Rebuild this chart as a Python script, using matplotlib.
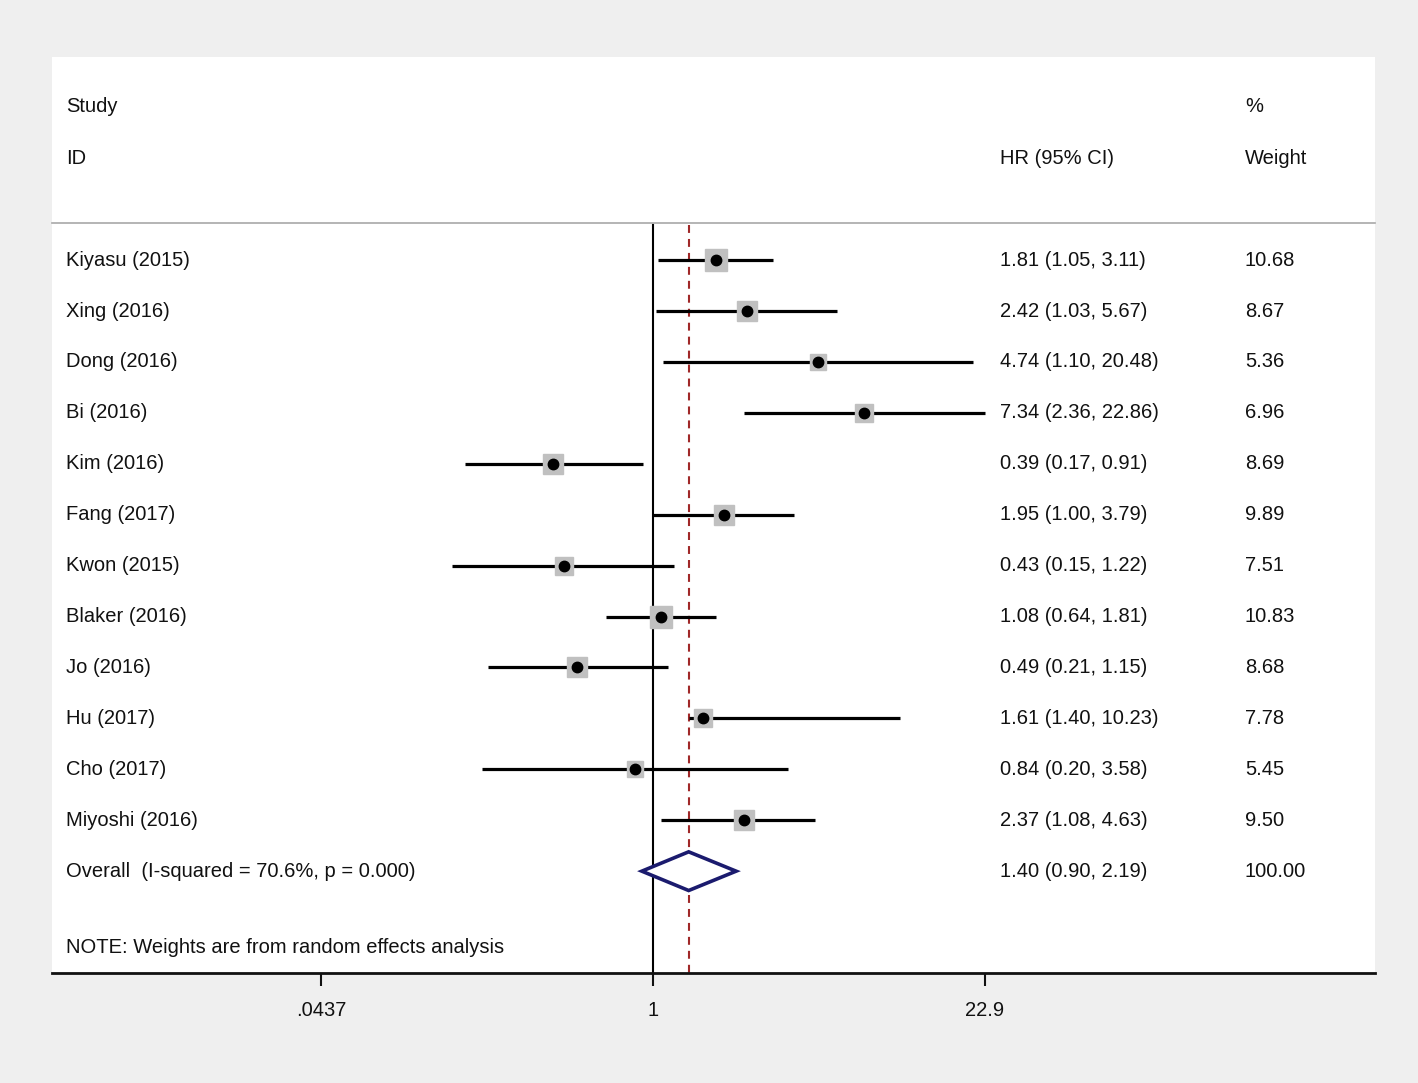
import matplotlib
matplotlib.use("Agg")
import matplotlib.pyplot as plt
import matplotlib.transforms as mtransforms
from matplotlib.patches import Polygon
import numpy as np

plt.rcParams['font.family'] = ['Liberation Sans', 'DejaVu Sans']

studies = ["Kiyasu (2015)", "Xing (2016)", "Dong (2016)", "Bi (2016)", "Kim (2016)",
           "Fang (2017)", "Kwon (2015)", "Blaker (2016)", "Jo (2016)", "Hu (2017)",
           "Cho (2017)", "Miyoshi (2016)"]
hr = [1.81, 2.42, 4.74, 7.34, 0.39, 1.95, 0.43, 1.08, 0.49, 1.61, 0.84, 2.37]
lo = [1.05, 1.03, 1.10, 2.36, 0.17, 1.00, 0.15, 0.64, 0.21, 1.40, 0.20, 1.08]
hi = [3.11, 5.67, 20.48, 22.86, 0.91, 3.79, 1.22, 1.81, 1.15, 10.23, 3.58, 4.63]
weights = [10.68, 8.67, 5.36, 6.96, 8.69, 9.89, 7.51, 10.83, 8.68, 7.78, 5.45, 9.50]
hr_text = ["1.81 (1.05, 3.11)", "2.42 (1.03, 5.67)", "4.74 (1.10, 20.48)",
           "7.34 (2.36, 22.86)", "0.39 (0.17, 0.91)", "1.95 (1.00, 3.79)",
           "0.43 (0.15, 1.22)", "1.08 (0.64, 1.81)", "0.49 (0.21, 1.15)",
           "1.61 (1.40, 10.23)", "0.84 (0.20, 3.58)", "2.37 (1.08, 4.63)"]
weight_text = ["10.68", "8.67", "5.36", "6.96", "8.69", "9.89", "7.51", "10.83",
               "8.68", "7.78", "5.45", "9.50"]
overall = (1.40, 0.90, 2.19)
overall_label = "Overall  (I-squared = 70.6%, p = 0.000)"
overall_text = "1.40 (0.90, 2.19)"
overall_weight = "100.00"
note = "NOTE: Weights are from random effects analysis"
tick_vals = [0.0437, 1, 22.9]
tick_labels = [".0437", "1", "22.9"]

W, H = 1418, 1083
fig = plt.figure(figsize=(W / 100, H / 100), dpi=100)
fig.patch.set_facecolor('#efefef')

left, right, top, bottom = 52, 1375, 57, 973
ax = fig.add_axes([left / W, 1 - bottom / H, (right - left) / W, (bottom - top) / H])
ax.set_facecolor('white')
ax.set_xscale('log')
ppl = 332 / np.log(22.9)  # pixels per ln unit
ax.set_xlim(np.exp(-(653 - left) / ppl), np.exp((right - 653) / ppl))
ax.set_ylim(14.0, -3.99)

for s in ['top', 'left', 'right']:
    ax.spines[s].set_visible(False)
ax.spines['bottom'].set_linewidth(2)
ax.spines['bottom'].set_color('#111111')
ax.set_yticks([])
ax.set_xticks(tick_vals)
ax.set_xticklabels(tick_labels)
ax.xaxis.set_minor_locator(matplotlib.ticker.NullLocator())
ax.tick_params(axis='x', direction='out', length=9, width=1.5, color='#111111',
               labelsize=14.5, pad=11, labelcolor='#111111')

fs = 14.5
tc = '#111111'
trans = mtransforms.blended_transform_factory(ax.transAxes, ax.transData)
xs_lab, xs_hr, xs_w = (66 - left) / (right - left), (1000 - left) / (right - left), (1245 - left) / (right - left)

# headers
ax.text(xs_lab, -3.02, "Study", transform=trans, fontsize=fs, color=tc, va='center')
ax.text(xs_lab, -2.0, "ID", transform=trans, fontsize=fs, color=tc, va='center')
ax.text(xs_hr, -2.0, "HR (95% CI)", transform=trans, fontsize=fs, color=tc, va='center')
ax.text(xs_w, -3.02, "%", transform=trans, fontsize=fs, color=tc, va='center')
ax.text(xs_w, -2.0, "Weight", transform=trans, fontsize=fs, color=tc, va='center')
ax.plot([0, 1], [-0.73, -0.73], transform=trans, color='#a8a8a8', lw=1.2, clip_on=False)

# reference lines
ax.plot([1, 1], [-0.69, 14.0], color='black', lw=1.5, zorder=2)
ax.plot([overall[0], overall[0]], [-0.69, 14.0], color='#a02828', lw=1.5,
        dashes=(3.8, 2.9), zorder=2)

rows = np.arange(len(studies))
for i in rows:
    y = i
    ax.plot([lo[i], hi[i]], [y, y], color='black', lw=2.3, solid_capstyle='butt', zorder=3)
    ms = 15.5 * np.sqrt(weights[i] / 10.83)
    ax.plot(hr[i], y, marker='s', ms=ms, color='#c0c0c0', mec='#c0c0c0', zorder=4)
    ax.plot(hr[i], y, marker='o', ms=7.5, color='black', zorder=5)
    ax.text(xs_lab, y, studies[i], transform=trans, fontsize=fs, color=tc, va='center')
    ax.text(xs_hr, y, hr_text[i], transform=trans, fontsize=fs, color=tc, va='center')
    ax.text(xs_w, y, weight_text[i], transform=trans, fontsize=fs, color=tc, va='center')

yo = len(studies)
est, olo, ohi = overall
dia = Polygon([[olo, yo], [est, yo - 0.38], [ohi, yo], [est, yo + 0.38]], closed=True,
              facecolor='white', edgecolor='#1b1b6e', lw=2.6, zorder=6)
ax.add_patch(dia)
ax.text(xs_lab, yo, overall_label, transform=trans, fontsize=fs, color=tc, va='center')
ax.text(xs_hr, yo, overall_text, transform=trans, fontsize=fs, color=tc, va='center')
ax.text(xs_w, yo, overall_weight, transform=trans, fontsize=fs, color=tc, va='center')
ax.text(xs_lab, 13.5, note, transform=trans, fontsize=fs, color=tc, va='center')

fig.savefig("out.png", dpi=100, facecolor=fig.get_facecolor())
